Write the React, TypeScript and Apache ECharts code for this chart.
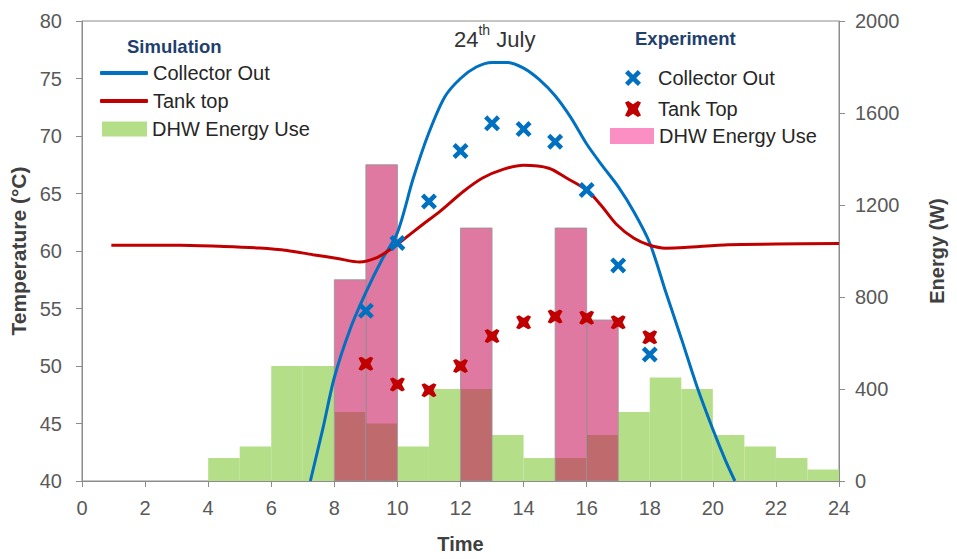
import React, { useEffect, useRef } from "react";
import * as echarts from "echarts";

// ---- Data ----
// Simulation DHW energy use (W), hourly bins starting at these hours
const simDhwHours = [4, 5, 6, 7, 8, 9, 10, 11, 12, 13, 14, 15, 16, 17, 18, 19, 20, 21, 22, 23];
const simDhwWatts = [100, 150, 500, 500, 300, 250, 150, 400, 400, 200, 100, 100, 200, 300, 450, 400, 200, 150, 100, 50];

// Experiment DHW energy use (W)
const expDhwHours = [8, 9, 12, 15, 16];
const expDhwWatts = [875, 1375, 1100, 1100, 700];

// Simulation Collector Out (°C)
const simCollectorTime = [7.24, 7.64, 8, 8.5, 9, 9.5, 10, 10.5, 11, 11.5, 12, 12.5, 13, 13.5, 14, 14.5, 15, 15.5, 16, 16.5, 17, 17.5, 18, 18.5, 19, 19.5, 20, 20.4, 20.7];
const simCollectorTemp = [40, 44.6, 49, 53.2, 56.4, 59.2, 61.6, 66.3, 70.3, 73.4, 75, 76, 76.4, 76.4, 75.9, 74.9, 73.5, 71.6, 69.3, 67.4, 65.6, 63.4, 60.7, 56.5, 52.4, 48.2, 44.5, 41.8, 40];

// Simulation Tank top (°C)
const simTankTime = [0.93, 3.1, 4.5, 5.63, 6.5, 7.32, 8.1, 8.8, 9.33, 9.76, 10.1, 10.8, 11.35, 12.1, 12.7, 13.35, 14, 14.8, 15.36, 16, 16.45, 16.95, 17.5, 18, 18.5, 19.1, 20.5, 22, 24];
const simTankTemp = [60.5, 60.5, 60.4, 60.26, 60.05, 59.68, 59.35, 59.04, 59.4, 60.1, 60.8, 62.3, 63.45, 65.2, 66.35, 67.1, 67.45, 67.2, 66.35, 65.3, 64.0, 62.3, 61.1, 60.5, 60.25, 60.3, 60.55, 60.6, 60.65];

// Experiment measurements (°C)
const expHours = [9, 10, 11, 12, 13, 14, 15, 16, 17, 18];
const expCollectorTemp = [54.8, 60.7, 64.3, 68.7, 71.1, 70.6, 69.5, 65.3, 58.75, 51.0];
const expTankTemp = [50.2, 48.4, 47.9, 50.0, 52.6, 53.8, 54.3, 54.2, 53.8, 52.5];

// Legend labels
const legendLabels: Record<string, string> = {
  simCollector: "Collector Out",
  simTank: "Tank top",
  simDhw: "DHW Energy Use",
  expCollector: "Collector Out",
  expTank: "Tank Top",
  expDhw: "DHW Energy Use",
};

const FONT = "'Liberation Sans', Arial, sans-serif";
const BLUE = "#0070C0";
const RED = "#C00000";
const GREEN = "#B5DE89";
const PINK = "rgba(200,16,88,0.56)";
const PINK_LEGEND = "#FB8FC4";

const X_BLUE = "path://M2,0 L5,3 L8,0 L10,2 L7,5 L10,8 L8,10 L5,7 L2,10 L0,8 L3,5 L0,2 Z";
const X_RED = "path://M0,1 L2,0 L5,2 L8,0 L10,1 L8,5 L10,9 L8,10 L5,8 L2,10 L0,9 L2,5 Z";

function barRender(fill: string, stroke: string | null) {
  return (params: any, api: any) => {
    const p0 = api.coord([api.value(0), api.value(2)]);
    const p1 = api.coord([api.value(1), 0]);
    const cs = params.coordSys;
    return {
      type: "rect",
      shape: { x: p0[0], y: p0[1], width: p1[0] - p0[0], height: p1[1] - p0[1] },
      style: stroke ? { fill, stroke, lineWidth: 1 } : { fill },
      clipPath: { type: "rect", shape: { x: cs.x, y: cs.y, width: cs.width, height: cs.height } },
    };
  };
}

export default function App() {
  const ref = useRef<HTMLDivElement>(null);

  useEffect(() => {
    if (!ref.current) return;
    const chart = echarts.init(ref.current, undefined, { renderer: "svg" });

    const legendText = { color: "#262626", fontSize: 20, fontFamily: FONT };
    const fmt = (name: string) => legendLabels[name] || name;

    chart.setOption({
      animation: false,
      textStyle: { fontFamily: FONT },
      title: [
        {
          text: "Simulation",
          left: 122,
          top: 32,
          textStyle: { color: "#1F3F6E", fontSize: 18.5, fontWeight: "bold", fontFamily: FONT },
        },
        {
          text: "Experiment",
          left: 630,
          top: 24,
          textStyle: { color: "#1F3F6E", fontSize: 18.5, fontWeight: "bold", fontFamily: FONT },
        },
        {
          text: "{n|24}{s|th}{n| July}",
          left: 449,
          top: 18,
          textStyle: {
            fontWeight: "normal",
            rich: {
              n: { fontSize: 22, color: "#333333", fontFamily: FONT, fontWeight: "normal", lineHeight: 27, verticalAlign: "bottom" },
              s: { fontSize: 14, color: "#333333", fontFamily: FONT, fontWeight: "normal", lineHeight: 15, verticalAlign: "top" },
            },
          },
        },
      ],
      legend: [
        {
          orient: "vertical",
          left: 95,
          top: 58,
          itemWidth: 48,
          itemHeight: 4,
          itemGap: 8,
          selectedMode: false,
          textStyle: legendText,
          formatter: fmt,
          data: [
            { name: "simCollector", icon: "roundRect", itemStyle: { color: BLUE } },
            { name: "simTank", icon: "roundRect", itemStyle: { color: RED } },
          ],
        },
        {
          orient: "vertical",
          left: 97,
          top: 114,
          itemWidth: 45,
          itemHeight: 15,
          selectedMode: false,
          textStyle: legendText,
          formatter: fmt,
          data: [{ name: "simDhw", icon: "rect" }],
        },
        {
          orient: "vertical",
          left: 620,
          top: 63,
          itemWidth: 16,
          itemHeight: 16,
          itemGap: 11,
          selectedMode: false,
          textStyle: { ...legendText, padding: [0, 0, 0, 12] },
          formatter: fmt,
          data: [{ name: "expCollector" }, { name: "expTank" }],
        },
        {
          orient: "vertical",
          left: 605,
          top: 121,
          itemWidth: 44,
          itemHeight: 16,
          selectedMode: false,
          textStyle: legendText,
          formatter: fmt,
          data: [{ name: "expDhw", icon: "rect", itemStyle: { color: PINK_LEGEND } }],
        },
      ],
      grid: {
        left: 82,
        right: 118,
        top: 21,
        bottom: 78,
        show: true,
        borderColor: "#8C8C8C",
        borderWidth: 1,
        containLabel: false,
        outerBoundsMode: "none",
      },
      xAxis: {
        type: "value",
        min: 0,
        max: 24,
        interval: 2,
        name: "Time",
        nameLocation: "middle",
        nameGap: 53,
        nameTextStyle: { fontSize: 20, fontWeight: "bold", color: "#404040", fontFamily: FONT },
        axisLine: { show: true, onZero: false, lineStyle: { color: "#8C8C8C" } },
        axisTick: { show: true, length: 6, lineStyle: { color: "#8C8C8C" } },
        axisLabel: { color: "#595959", fontSize: 20, margin: 17, fontFamily: FONT },
        splitLine: { show: false },
      },
      yAxis: [
        {
          type: "value",
          min: 40,
          max: 80,
          interval: 5,
          position: "left",
          name: "Temperature (°C)",
          nameLocation: "middle",
          nameRotate: 90,
          nameGap: 43,
          nameTextStyle: { fontSize: 21, fontWeight: "bold", color: "#404040", fontFamily: FONT },
          axisLine: { show: true, lineStyle: { color: "#8C8C8C" } },
          axisTick: { show: true, length: 6, lineStyle: { color: "#8C8C8C" } },
          axisLabel: { color: "#595959", fontSize: 20, margin: 20, fontFamily: FONT },
          splitLine: { show: false },
        },
        {
          type: "value",
          min: 0,
          max: 2000,
          interval: 400,
          position: "right",
          name: "Energy (W)",
          nameLocation: "middle",
          nameRotate: 90,
          nameGap: 88,
          nameTextStyle: { fontSize: 20, fontWeight: "bold", color: "#404040", fontFamily: FONT },
          axisLine: { show: true, lineStyle: { color: "#8C8C8C" } },
          axisTick: { show: true, length: 6, lineStyle: { color: "#8C8C8C" } },
          axisLabel: { color: "#595959", fontSize: 20, margin: 16, fontFamily: FONT, formatter: (v: number) => String(v) },
          splitLine: { show: false },
        },
      ],
      series: [
        {
          name: "simDhw",
          type: "custom",
          yAxisIndex: 1,
          z: 1,
          itemStyle: { color: GREEN },
          encode: { x: [0, 1], y: 2 },
          renderItem: barRender(GREEN, null),
          data: simDhwHours.map((h, i) => [h, h + 1, simDhwWatts[i]]),
        },
        {
          name: "expDhw",
          type: "custom",
          yAxisIndex: 1,
          z: 2,
          itemStyle: { color: PINK_LEGEND },
          encode: { x: [0, 1], y: 2 },
          renderItem: barRender(PINK, "rgba(150,150,150,0.85)"),
          data: expDhwHours.map((h, i) => [h, h + 1, expDhwWatts[i]]),
        },
        {
          name: "simCollector",
          type: "line",
          yAxisIndex: 0,
          z: 3,
          smooth: 0.3,
          symbol: "none",
          showSymbol: false,
          color: BLUE,
          lineStyle: { color: BLUE, width: 3 },
          data: simCollectorTime.map((t, i) => [t, simCollectorTemp[i]]),
        },
        {
          name: "simTank",
          type: "line",
          yAxisIndex: 0,
          z: 3,
          smooth: 0.3,
          symbol: "none",
          showSymbol: false,
          color: RED,
          lineStyle: { color: RED, width: 3 },
          data: simTankTime.map((t, i) => [t, simTankTemp[i]]),
        },
        {
          name: "expCollector",
          type: "scatter",
          yAxisIndex: 0,
          z: 4,
          symbol: X_BLUE,
          symbolSize: 16,
          itemStyle: { color: BLUE, opacity: 1 },
          data: expHours.map((h, i) => [h, expCollectorTemp[i]]),
        },
        {
          name: "expTank",
          type: "scatter",
          yAxisIndex: 0,
          z: 4,
          symbol: X_RED,
          symbolSize: [15, 14],
          itemStyle: { color: RED, opacity: 1 },
          data: expHours.map((h, i) => [h, expTankTemp[i]]),
        },
      ],
    });

    return () => chart.dispose();
  }, []);

  return <div ref={ref} style={{ width: 957, height: 559, margin: -8 }} />;
}
